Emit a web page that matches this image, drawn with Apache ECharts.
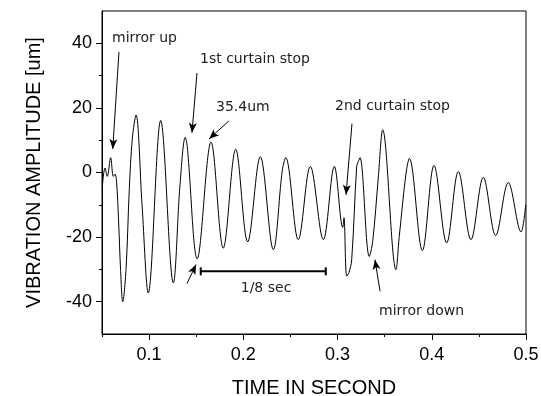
<!DOCTYPE html>
<html>
<head>
<meta charset="utf-8">
<script src="https://cdn.jsdelivr.net/npm/echarts@6/dist/echarts.min.js"></script>
<style>
html,body{margin:0;padding:0;background:#fff;}
#c{width:541px;height:396px;}
</style>
</head>
<body>
<div id="c"></div>
<script>
// ---- data ----
const timeSec = [0.0503,0.0532,0.0556,0.0592,0.0620,0.0638,0.0655,0.0676,0.0697,0.0720,0.0755,0.0790,0.0822,0.0861,0.0925,0.0991,0.1123,0.1257,0.1328,0.1384,0.1405,0.1511,0.1657,0.1787,0.1919,0.2046,0.2180,0.2318,0.2414,0.2450,0.2583,0.2711,0.2849,0.2966,0.3055,0.3068,0.3097,0.3121,0.3150,0.3203,0.3220,0.3238,0.3337,0.3373,0.3432,0.3479,0.3620,0.3655,0.3727,0.3762,0.3900,0.4024,0.4158,0.4282,0.4416,0.4547,0.4678,0.4812,0.4947,0.4997];
const amplitudeUm = [-4.5,1.4,-1.2,4.6,-1.2,-0.5,-3,-15,-30,-40,-30,-5,10.6,17.8,-10,-37.3,16.1,-34.2,-3.8,10.9,8.0,-26.7,9.4,-23.4,7.2,-21.5,4.9,-23.9,0.8,4.6,-20.8,1.9,-20.8,1.9,-17,-14,-32.1,-31,-27,1.9,3.4,4.6,-26,-21.3,-1.7,13.2,-30.1,-19.8,-0.2,4.4,-24.2,2.2,-21.8,0.3,-20.8,-1.5,-19.5,-3.1,-18.4,-10];
const xTickLabels = [0.1,0.2,0.3,0.4,0.5];
const xMinorTicks = [0.05,0.15,0.25,0.35,0.45];
const yTickLabels = [-40,-20,0,20,40];
const yMinorTicks = [-30,-10,10,30];
const scaleBarX = [0.1548,0.2875];
const scaleBarY = -30.6;
const noteTexts = ['mirror up','1st curtain stop','35.4um','2nd curtain stop','mirror down'];
const noteX = [0.0606,0.1540,0.1710,0.2973,0.3440];
const noteY = [41.6,35.1,20.3,20.6,-43.0];
const scaleBarText = '1/8 sec';
const scaleBarTextPos = [0.2241,-36.0];
const arrowFrom = [[0.0680,37.3],[0.1508,30.8],[0.1848,16.0],[0.3153,15.1],[0.1402,-34.4],[0.3451,-36.8]];
const arrowTo   = [[0.0614,7.3],[0.1455,12.3],[0.1636,10.4],[0.3090,-6.9],[0.1498,-28.5],[0.3397,-27.0]];

const wave = timeSec.map((t,i)=>[t, amplitudeUm[i]]);
const tickFont = {fontFamily:'Liberation Sans, Arial, sans-serif', fontSize:18, color:'#000'};
const noteFont = {fontFamily:'DejaVu Sans, Verdana, sans-serif', fontSize:14, color:'#222'};

const chart = echarts.init(document.getElementById('c'), null, {renderer:'canvas'});
chart.setOption({
  animation:false,
  backgroundColor:'#fff',
  grid:{left:102,right:15,top:11,bottom:62,containLabel:false,outerBoundsMode:'none',show:true,borderColor:'#000',borderWidth:1,backgroundColor:'transparent'},
  xAxis:[{
    type:'value',min:0.05,max:0.5,position:'bottom',
    name:'TIME IN SECOND',nameLocation:'middle',nameGap:44,
    nameTextStyle:{fontFamily:'Liberation Sans, Arial, sans-serif',fontSize:20,color:'#000'},
    axisLine:{show:true,onZero:false,lineStyle:{color:'#000',width:1}},
    axisTick:{show:true,inside:false,length:6,customValues:xTickLabels,lineStyle:{color:'#000'}},
    axisLabel:Object.assign({show:true,margin:12,customValues:xTickLabels,formatter:v=>String(+(+v).toFixed(2))},tickFont),
    splitLine:{show:false}
  },{
    type:'value',min:0.05,max:0.5,position:'bottom',
    axisLine:{show:false,onZero:false},
    axisTick:{show:true,inside:false,length:3,customValues:xMinorTicks,lineStyle:{color:'#000'}},
    axisLabel:{show:false},splitLine:{show:false}
  }],
  yAxis:[{
    type:'value',min:-50,max:50,position:'left',
    name:'VIBRATION AMPLITUDE [um]',nameLocation:'middle',nameGap:58,
    nameTextStyle:{fontFamily:'Liberation Sans, Arial, sans-serif',fontSize:20,color:'#000'},
    axisLine:{show:true,onZero:false,lineStyle:{color:'#000',width:1}},
    axisTick:{show:true,inside:false,length:6,customValues:yTickLabels,lineStyle:{color:'#000'}},
    axisLabel:Object.assign({show:true,margin:10,customValues:yTickLabels},tickFont),
    splitLine:{show:false}
  },{
    type:'value',min:-50,max:50,position:'left',
    axisLine:{show:false,onZero:false},
    axisTick:{show:true,inside:false,length:3,customValues:yMinorTicks,lineStyle:{color:'#000'}},
    axisLabel:{show:false},splitLine:{show:false}
  }],
  series:[{
    type:'line',data:wave,xAxisIndex:0,yAxisIndex:0,
    showSymbol:false,smooth:0.35,
    lineStyle:{color:'#000',width:1},
    silent:true,
    markPoint:{
      silent:true,symbol:'circle',symbolSize:0,
      label:Object.assign({show:true,position:'right',distance:0,formatter:p=>p.name},noteFont),
      data:noteTexts.map((t,i)=>({name:t,coord:[noteX[i],noteY[i]]})).concat([
        {name:scaleBarText,coord:scaleBarTextPos,label:{position:'inside'}}
      ])
    },
    markLine:{
      silent:true,animation:false,
      symbol:['none','arrow'],symbolSize:[6,10],
      label:{show:false},
      lineStyle:{color:'#000',width:1,type:'solid'},
      data:arrowFrom.map((f,i)=>[{coord:f,symbol:'none'},{coord:arrowTo[i],symbol:'arrow',symbolSize:[6,10]}])
    }
  },{
    type:'line',xAxisIndex:0,yAxisIndex:0,
    data:scaleBarX.map(x=>[x,scaleBarY]),
    symbol:'rect',symbolSize:[2,8],showSymbol:true,
    lineStyle:{color:'#000',width:2},
    itemStyle:{color:'#000'},
    silent:true
  }]
});
</script>
</body>
</html>
